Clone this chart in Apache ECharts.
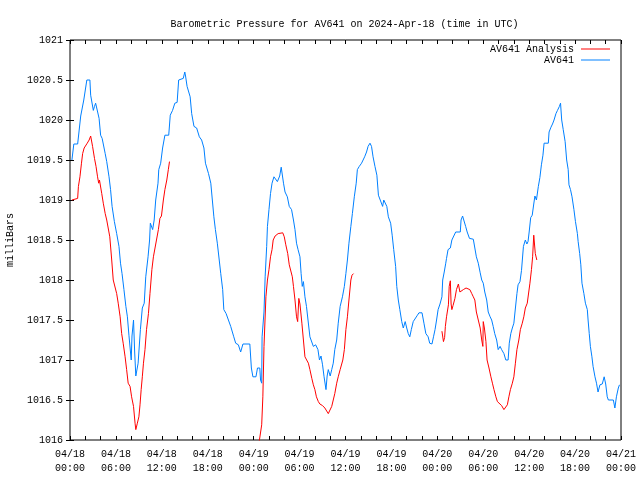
<!DOCTYPE html>
<html>
<head>
<meta charset="utf-8">
<script src="https://cdn.jsdelivr.net/npm/echarts@6/dist/echarts.min.js"></script>
<style>html,body{margin:0;padding:0;background:#fff}#c{width:640px;height:480px}</style>
</head>
<body>
<div id="c"></div>
<script>
// hours since 2024-04-18 00:00 UTC
const xTickLabels = ['04/18\n00:00','04/18\n06:00','04/18\n12:00','04/18\n18:00','04/19\n00:00','04/19\n06:00','04/19\n12:00','04/19\n18:00','04/20\n00:00','04/20\n06:00','04/20\n12:00','04/20\n18:00','04/21\n00:00'];

const blueT = [0.25,0.5,1.0,1.4,1.5,1.8,2.2,2.6,2.7,2.9,3.05,3.2,3.35,3.6,3.8,4.0,4.2,4.6,4.8,5.1,5.3,5.5,5.8,6.1,6.4,6.6,6.8,7.05,7.3,7.5,7.7,7.95,8.0,8.1,8.3,8.45,8.6,8.75,8.9,9.2,9.45,9.7,9.9,10.2,10.4,10.5,10.8,11.0,11.2,11.5,11.6,11.85,12.1,12.4,12.9,13.1,13.4,13.7,14.0,14.2,14.8,15.0,15.1,15.3,15.7,15.9,16.2,16.55,16.9,17.2,17.5,17.7,18.1,18.4,18.6,18.8,19.0,19.25,19.5,19.7,19.95,20.1,20.4,20.7,21.0,21.4,21.65,22.0,22.3,22.6,23.5,23.7,23.9,24.3,24.5,24.8,24.9,25.05,25.1,25.35,25.5,25.7,25.8,26.0,26.2,26.4,26.65,26.9,27.1,27.4,27.6,27.8,27.9,28.1,28.4,28.65,28.95,29.2,29.4,29.6,29.8,30.05,30.2,30.35,30.5,30.7,30.9,31.1,31.35,31.8,32.1,32.4,32.6,32.8,33.0,33.2,33.45,33.6,33.75,34.0,34.2,34.4,34.6,34.85,35.05,35.3,35.6,35.85,36.05,36.25,36.45,36.7,36.9,37.15,37.4,37.55,37.8,38.1,38.3,38.5,38.75,38.95,39.2,39.4,39.6,39.85,40.1,40.3,40.5,40.85,41.0,41.4,41.6,41.9,42.1,42.3,42.55,42.7,42.9,43.1,43.35,43.55,43.8,44.0,44.2,44.4,44.6,44.85,45.1,45.4,45.6,46.0,46.25,46.5,46.8,47.0,47.3,47.5,47.7,47.9,48.1,48.35,48.6,48.7,48.9,49.1,49.2,49.4,49.7,49.9,50.0,50.4,51.0,51.1,51.3,51.5,51.7,51.9,52.0,52.2,52.7,52.9,53.1,53.35,53.6,53.8,54.0,54.2,54.45,54.65,54.9,55.1,55.3,55.5,55.75,55.95,56.2,56.4,56.7,56.95,57.25,57.4,57.6,57.8,58.0,58.15,58.4,58.55,58.8,59.0,59.25,59.5,59.7,59.85,60.0,60.2,60.4,60.6,60.75,60.95,61.2,61.4,61.6,61.8,61.95,62.5,62.6,62.85,63.05,63.25,63.5,63.7,63.95,64.1,64.25,64.45,64.7,64.9,65.1,65.2,65.4,65.6,65.85,66.05,66.3,66.4,66.6,66.75,66.9,67.15,67.35,67.6,67.7,67.85,68.0,68.2,68.35,68.6,68.8,69.0,69.25,69.55,69.8,70.0,70.2,70.35,71.0,71.2,71.4,71.65,71.8];
const blueV = [1019.5,1019.7,1019.7,1020.05,1020.1,1020.25,1020.5,1020.5,1020.31,1020.3,1020.12,1020.17,1020.21,1020.21,1020.02,1019.81,1019.77,1019.58,1019.48,1019.29,1019.13,1018.92,1018.73,1018.58,1018.42,1018.21,1018.08,1017.88,1017.67,1017.54,1017.31,1017.29,1017.0,1017.3,1017.5,1017.1,1016.8,1016.79,1016.96,1017.38,1017.65,1017.71,1018.04,1018.29,1018.5,1018.71,1018.63,1018.75,1019.0,1019.21,1019.38,1019.46,1019.65,1019.81,1019.81,1020.06,1020.12,1020.21,1020.22,1020.5,1020.52,1020.6,1020.55,1020.42,1020.29,1020.08,1019.92,1019.9,1019.79,1019.75,1019.65,1019.46,1019.33,1019.21,1019.0,1018.79,1018.63,1018.46,1018.25,1018.08,1017.88,1017.63,1017.58,1017.5,1017.42,1017.29,1017.21,1017.19,1017.1,1017.2,1017.2,1016.9,1016.79,1016.79,1016.9,1016.9,1016.75,1016.71,1017.29,1017.6,1018.04,1018.42,1018.67,1018.88,1019.08,1019.21,1019.29,1019.31,1019.23,1019.3,1019.41,1019.41,1019.21,1019.1,1019.04,1018.92,1018.88,1018.75,1018.63,1018.46,1018.38,1018.29,1018.08,1017.92,1017.98,1017.79,1017.67,1017.5,1017.29,1017.17,1017.19,1017.13,1017.0,1017.05,1016.94,1016.79,1016.63,1016.8,1016.88,1016.8,1016.88,1016.96,1017.13,1017.25,1017.46,1017.67,1017.79,1017.92,1018.08,1018.25,1018.46,1018.67,1018.83,1019.04,1019.21,1019.38,1019.42,1019.46,1019.5,1019.54,1019.6,1019.67,1019.71,1019.67,1019.54,1019.42,1019.31,1019.06,1019.04,1018.92,1019.0,1018.92,1018.79,1018.71,1018.56,1018.38,1018.17,1017.92,1017.75,1017.63,1017.48,1017.4,1017.48,1017.4,1017.33,1017.29,1017.38,1017.48,1017.5,1017.56,1017.59,1017.59,1017.46,1017.33,1017.29,1017.21,1017.2,1017.29,1017.38,1017.5,1017.63,1017.7,1017.79,1018.0,1018.1,1018.21,1018.27,1018.38,1018.4,1018.5,1018.52,1018.6,1018.6,1018.75,1018.8,1018.79,1018.67,1018.6,1018.62,1018.52,1018.51,1018.4,1018.29,1018.21,1018.09,1018.0,1017.96,1017.85,1017.75,1017.6,1017.54,1017.5,1017.42,1017.33,1017.25,1017.13,1017.17,1017.13,1017.08,1017.0,1017.0,1017.21,1017.33,1017.4,1017.46,1017.6,1017.83,1017.94,1017.98,1018.12,1018.42,1018.5,1018.45,1018.48,1018.6,1018.78,1018.81,1018.95,1019.05,1019.0,1019.17,1019.28,1019.44,1019.56,1019.71,1019.71,1019.85,1019.91,1019.95,1020.0,1020.08,1020.12,1020.17,1020.21,1020.0,1019.88,1019.73,1019.5,1019.38,1019.19,1019.13,1019.04,1018.88,1018.73,1018.58,1018.48,1018.33,1018.19,1017.96,1017.83,1017.71,1017.63,1017.5,1017.33,1017.17,1017.04,1016.92,1016.79,1016.71,1016.6,1016.69,1016.7,1016.79,1016.7,1016.54,1016.5,1016.5,1016.4,1016.54,1016.65,1016.69];

// red analysis: null separates the three runs
const redT = [0.25,1.0,1.1,1.3,1.5,1.65,1.85,2.25,2.5,2.7,2.85,2.95,3.2,3.4,3.6,3.75,3.85,4.0,4.15,4.35,4.6,4.8,5.0,5.2,5.45,5.65,5.85,6.1,6.3,6.55,6.75,6.95,7.2,7.4,7.6,7.85,8.05,8.3,8.5,8.6,8.8,9.0,9.15,9.3,9.45,9.6,9.8,10.0,10.25,10.45,10.7,10.9,11.05,11.3,11.55,11.75,11.95,12.2,12.4,12.65,12.85,13.0,
  null,
  24.6,25.05,25.2,25.35,25.6,25.8,26.0,26.2,26.4,26.55,26.8,27.2,27.8,28.0,28.2,28.45,28.65,28.85,29.05,29.2,29.4,29.6,29.75,29.9,30.05,30.3,30.5,30.7,30.95,31.15,31.35,31.6,31.8,32.0,32.2,32.45,32.65,33.0,33.3,33.75,34.0,34.2,34.4,34.6,34.85,35.05,35.3,35.65,35.85,36.05,36.25,36.45,36.7,36.85,37.05,
  null,
  48.6,48.8,48.95,49.05,49.2,49.45,49.55,49.7,49.8,49.9,50.05,50.3,50.5,50.75,50.95,51.15,51.4,51.75,51.95,52.25,52.5,52.7,52.9,53.1,53.35,53.6,53.8,53.95,54.0,54.15,54.35,54.5,54.75,55.0,55.2,55.4,55.65,55.85,56.1,56.4,56.7,56.95,57.15,57.35,57.55,57.8,58.0,58.2,58.4,58.65,58.85,59.1,59.3,59.5,59.75,59.95,60.1,60.3,60.45,60.6,60.8,61.0];
const redV = [1019.0,1019.02,1019.17,1019.29,1019.46,1019.58,1019.65,1019.71,1019.75,1019.8,1019.8,1019.67,1019.52,1019.42,1019.29,1019.21,1019.25,1019.25,1019.08,1018.96,1018.83,1018.75,1018.74,1018.54,1018.25,1018.0,1017.98,1017.83,1017.71,1017.54,1017.33,1017.21,1017.04,1016.88,1016.71,1016.67,1016.54,1016.42,1016.21,1016.13,1016.21,1016.29,1016.44,1016.63,1016.79,1016.96,1017.13,1017.38,1017.58,1017.83,1018.13,1018.29,1018.3,1018.5,1018.63,1018.77,1018.8,1019.0,1019.13,1019.25,1019.38,1019.48,
  null,
  1015.9,1016.19,1016.54,1017.17,1017.79,1018.0,1018.13,1018.29,1018.38,1018.5,1018.55,1018.58,1018.59,1018.54,1018.44,1018.33,1018.19,1018.17,1018.04,1017.92,1017.75,1017.54,1017.48,1017.77,1017.7,1017.46,1017.25,1017.04,1017.02,1016.96,1016.88,1016.77,1016.69,1016.63,1016.54,1016.48,1016.45,1016.43,1016.4,1016.33,1016.33,1016.42,1016.5,1016.58,1016.71,1016.79,1016.88,1017.0,1017.13,1017.38,1017.54,1017.75,1018.0,1018.06,1018.08,
  null,
  1017.36,1017.23,1017.28,1017.42,1017.54,1017.69,1017.92,1017.99,1017.7,1017.63,1017.68,1017.77,1017.88,1017.95,1017.85,1017.87,1017.88,1017.9,1017.92,1017.88,1017.83,1017.79,1017.75,1017.6,1017.5,1017.4,1017.25,1017.17,1017.48,1017.4,1017.23,1017.0,1016.9,1016.79,1016.71,1016.63,1016.54,1016.48,1016.46,1016.43,1016.38,1016.38,1016.44,1016.54,1016.63,1016.71,1016.79,1016.96,1017.13,1017.25,1017.38,1017.46,1017.54,1017.65,1017.71,1017.71,1017.96,1018.13,1018.29,1018.56,1018.33,1018.25];

const pair = (ts, vs) => ts.map((t, i) => (t === null ? [null, null] : [t, vs[i]]));
const FONT = 'Liberation Mono';
const txt = { fontFamily: FONT, fontSize: 10, color: '#000' };

const chart = echarts.init(document.getElementById('c'), null, { renderer: 'canvas' });
chart.setOption({
  backgroundColor: '#fff',
  animation: false,
  title: {
    text: 'Barometric Pressure for AV641 on 2024-Apr-18 (time in UTC)',
    left: 339.5, top: 14, textAlign: 'center',
    textStyle: { fontFamily: FONT, fontSize: 10, fontWeight: 'normal', color: '#000' }
  },
  legend: {
    orient: 'vertical', right: 30, top: 44, align: 'right', padding: 0, itemGap: 1,
    itemWidth: 29, itemHeight: 1, icon: 'rect',
    textStyle: Object.assign({}, txt, { padding: [0, 2, 0, 0] }),
    data: ['AV641 Analysis', 'AV641']
  },
  grid: { left: 70, right: 19, top: 40, bottom: 40, containLabel: false, outerBoundsMode: 'none',
    show: true, borderColor: '#000', borderWidth: 1, backgroundColor: 'transparent' },
  xAxis: [
    { type: 'value', min: 0, max: 72, interval: 2, position: 'bottom',
      axisLine: { show: false }, splitLine: { show: false },
      axisTick: { show: true, inside: true, length: 4, lineStyle: { color: '#000' } },
      axisLabel: Object.assign({}, txt, { margin: 7, lineHeight: 14, showMinLabel: true, showMaxLabel: true,
        formatter: v => (v % 6 === 0 ? xTickLabels[v / 6] : '') }) },
    { type: 'value', min: 0, max: 72, interval: 2, position: 'top',
      axisLine: { show: false }, splitLine: { show: false },
      axisTick: { show: true, inside: true, length: 4, lineStyle: { color: '#000' } },
      axisLabel: { show: false } }
  ],
  yAxis: [
    { type: 'value', min: 1016, max: 1021, interval: 0.5, position: 'left',
      name: 'milliBars', nameLocation: 'middle', nameGap: 55, nameRotate: 90,
      nameTextStyle: txt,
      axisLine: { show: false }, splitLine: { show: false },
      axisTick: { show: true, inside: true, length: 4, lineStyle: { color: '#000' } },
      axisLabel: Object.assign({}, txt, { margin: 7, formatter: v => String(v) }) },
    { type: 'value', min: 1016, max: 1021, interval: 0.5, position: 'right',
      axisLine: { show: false }, splitLine: { show: false },
      axisTick: { show: true, inside: true, length: 4, lineStyle: { color: '#000' } },
      axisLabel: { show: false } }
  ],
  series: [
    { name: 'AV641 Analysis', type: 'line', data: pair(redT, redV), showSymbol: false, symbol: 'none',
      connectNulls: false, clip: true, itemStyle: { color: '#ff0000' }, lineStyle: { color: '#ff0000', width: 1 } },
    { name: 'AV641', type: 'line', data: pair(blueT, blueV), showSymbol: false, symbol: 'none',
      clip: true, itemStyle: { color: '#0080ff' }, lineStyle: { color: '#0080ff', width: 1 } }
  ]
});
</script>
</body>
</html>
